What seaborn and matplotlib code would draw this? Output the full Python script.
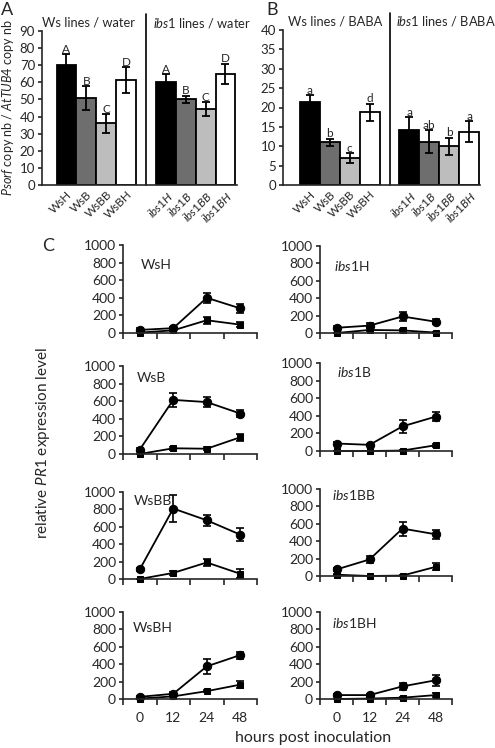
import numpy as np
import pandas as pd
import matplotlib
matplotlib.use("Agg")
import matplotlib.pyplot as plt
import seaborn as sns

#%%% style
sns.set_style("ticks")
plt.rcParams['font.family'] = ['Lato', 'DejaVu Sans']
plt.rcParams['mathtext.fontset'] = 'custom'
plt.rcParams['mathtext.rm'] = 'Lato'
plt.rcParams['mathtext.it'] = 'Lato:italic'
plt.rcParams['mathtext.bf'] = 'Lato:bold'
plt.rcParams['axes.linewidth'] = 1.2
plt.rcParams['xtick.major.width'] = 1.2
plt.rcParams['ytick.major.width'] = 1.2

#%%% data - bar panels (A water, B BABA)
genos = ['WsH', 'WsB', 'WsBB', 'WsBH', 'ibs1H', 'ibs1B', 'ibs1BB', 'ibs1BH']
geno_labels = ['WsH', 'WsB', 'WsBB', 'WsBH',
               r'$\it{ibs1H}$', r'$\it{ibs1B}$', r'$\it{ibs1BB}$', r'$\it{ibs1BH}$']
water_mean = [70, 51, 36, 61.5, 60, 50, 44.5, 65]
water_err = [6.5, 7, 5.5, 7.5, 5, 2.3, 4, 6]
water_letters = ['A', 'B', 'C', 'D', 'A', 'B', 'C', 'D']
baba_mean = [21.5, 11, 7, 18.8, 14.3, 11.2, 10, 13.8]
baba_err = [1.7, 1, 1.2, 2.2, 3.2, 3, 2.2, 2.6]
baba_letters = ['a', 'b', 'c', 'd', 'a', 'ab', 'b', 'a']
bar_colors = ['#000000', '#6e6e6e', '#bdbdbd', '#ffffff'] * 2

#%%% data - PR1 time course (C)
hours = ['0', '12', '24', '48']
# circles
wsh_circ = [35, 55, 400, 280]
wsb_circ = [50, 615, 590, 460]
wsbb_circ = [110, 810, 675, 510]
wsbh_circ = [25, 60, 375, 505]
ibs1h_circ = [60, 85, 190, 130]
ibs1b_circ = [85, 70, 280, 390]
ibs1bb_circ = [75, 190, 545, 480]
ibs1bh_circ = [45, 45, 145, 215]
wsh_circ_err = [20, 15, 60, 55]
wsb_circ_err = [15, 80, 60, 40]
wsbb_circ_err = [20, 150, 65, 75]
wsbh_circ_err = [10, 15, 90, 40]
ibs1h_circ_err = [15, 25, 50, 30]
ibs1b_circ_err = [15, 15, 70, 50]
ibs1bb_circ_err = [15, 35, 80, 50]
ibs1bh_circ_err = [10, 10, 40, 60]
# squares
wsh_sq = [5, 30, 145, 95]
wsb_sq = [0, 65, 60, 190]
wsbb_sq = [0, 70, 190, 60]
wsbh_sq = [5, 30, 90, 165]
ibs1h_sq = [0, 35, 30, 5]
ibs1b_sq = [0, 0, 5, 65]
ibs1bb_sq = [15, 0, 5, 105]
ibs1bh_sq = [0, 5, 15, 45]
wsh_sq_err = [5, 10, 40, 25]
wsb_sq_err = [5, 15, 20, 40]
wsbb_sq_err = [5, 20, 40, 50]
wsbh_sq_err = [5, 10, 15, 40]
ibs1h_sq_err = [5, 10, 15, 5]
ibs1b_sq_err = [5, 5, 5, 20]
ibs1bb_sq_err = [5, 5, 10, 40]
ibs1bh_sq_err = [5, 5, 10, 20]

#%%% figure
W, H = 495, 748
fig = plt.figure(figsize=(W / 100, H / 100), dpi=100)

def fax(left, top, right, bottom):
    # pixel box -> figure axes
    return fig.add_axes([left / W, 1 - bottom / H, (right - left) / W, (bottom - top) / H])

order = genos[:4] + [' '] + genos[4:]
pos = [0, 1, 2, 3, 5, 6, 7, 8]

def bar_panel(ax, means, errs, letters, ymax, step, xlim, titles, tpos):
    df = pd.DataFrame({'geno': genos, 'val': means})
    sns.barplot(data=df, x='geno', y='val', order=order, hue='geno',
                palette=dict(zip(genos, bar_colors)), legend=False,
                width=1.0, edgecolor='black', linewidth=1.3,
                errorbar=None, ax=ax, saturation=1)
    ax.errorbar(pos, means, yerr=errs, fmt='none', ecolor='black',
                elinewidth=1.3, capsize=3, capthick=1.3, zorder=5)
    for p, m, e, l in zip(pos, means, errs, letters):
        ax.text(p, m + e - ymax * 0.005, l, ha='center', va='bottom', fontsize=8.5)
    ax.set_ylim(0, ymax)
    ax.set_xlim(*xlim)
    ax.set_yticks(np.arange(0, ymax + 1, step))
    ax.set_xticks(pos)
    ax.set_xticklabels(geno_labels, rotation=45, ha='right', rotation_mode='anchor')
    ax.tick_params(axis='x', length=0, pad=3, labelsize=8.5)
    ax.tick_params(axis='y', length=3, pad=2, labelsize=9.5)
    ax.set_xlabel('')
    ax.set_ylabel('')
    ax.plot([4, 4], [0, 1.11], color='black', lw=1.2,
            transform=ax.get_xaxis_transform(), clip_on=False)
    # Ws title centred, ibs1 title starts just right of the divider
    ax.text(tpos[0], 1.055, titles[0], ha='center', va='center', fontsize=9.3,
            transform=ax.get_xaxis_transform())
    ax.text(tpos[1], 1.055, titles[1], ha='left', va='center', fontsize=9.3,
            transform=ax.get_xaxis_transform())
    sns.despine(ax=ax)

axA = fax(42, 31, 237, 185)
bar_panel(axA, water_mean, water_err, water_letters, 90, 10, (-1.23, 8.58),
          ['Ws lines / water', r'$\it{ibs1}$ lines / water'], [1.1, 4.35])
axB = fax(283, 30, 480, 185)
bar_panel(axB, baba_mean, baba_err, baba_letters, 40, 5, (-1.36, 8.55),
          ['Ws lines / BABA', r'$\it{ibs1}$ lines / BABA'], [1.26, 4.3])

fig.text(8 / W, 1 - 108 / H, r'$\it{Psorf}$ copy nb / $\it{AtTUB4}$ copy nb',
         rotation=90, ha='center', va='center', fontsize=9)

#%%% time course panels
left_col = (123, 257)
right_col = (320, 452)
rows_left = [(245, 333), (366, 454), (492, 579), (612, 699)]
rows_right = [(246, 333), (363, 451), (489, 576), (612, 699)]

panels = [
    ('WsH', wsh_circ, wsh_circ_err, wsh_sq, wsh_sq_err, left_col, rows_left[0], (0.13, 0.77)),
    ('WsB', wsb_circ, wsb_circ_err, wsb_sq, wsb_sq_err, left_col, rows_left[1], (0.10, 0.86)),
    ('WsBB', wsbb_circ, wsbb_circ_err, wsbb_sq, wsbb_sq_err, left_col, rows_left[2], (0.08, 0.90)),
    ('WsBH', wsbh_circ, wsbh_circ_err, wsbh_sq, wsbh_sq_err, left_col, rows_left[3], (0.07, 0.82)),
    (r'$\it{ibs1}$H', ibs1h_circ, ibs1h_circ_err, ibs1h_sq, ibs1h_sq_err, right_col, rows_right[0], (0.106, 0.77)),
    (r'$\it{ibs1}$B', ibs1b_circ, ibs1b_circ_err, ibs1b_sq, ibs1b_sq_err, right_col, rows_right[1], (0.13, 0.90)),
    (r'$\it{ibs1}$BB', ibs1bb_circ, ibs1bb_circ_err, ibs1bb_sq, ibs1bb_sq_err, right_col, rows_right[2], (0.09, 0.93)),
    (r'$\it{ibs1}$BH', ibs1bh_circ, ibs1bh_circ_err, ibs1bh_sq, ibs1bh_sq_err, right_col, rows_right[3], (0.09, 0.87)),
]

xpos = np.arange(len(hours))
for i, (name, circ, circ_e, sq, sq_e, col, row, tp) in enumerate(panels):
    ax = fax(col[0], row[0], col[1], row[1])
    sns.lineplot(x=xpos, y=sq, marker='s', markersize=5, color='black',
                 linewidth=1.3, markeredgecolor='black', ax=ax, clip_on=False)
    sns.lineplot(x=xpos, y=circ, marker='o', markersize=6, color='black',
                 linewidth=1.3, markeredgecolor='black', ax=ax, clip_on=False)
    ax.errorbar(xpos, sq, yerr=sq_e, fmt='none', ecolor='black', elinewidth=1.2,
                capsize=3, capthick=1.2, clip_on=False)
    ax.errorbar(xpos, circ, yerr=circ_e, fmt='none', ecolor='black', elinewidth=1.2,
                capsize=3, capthick=1.2, clip_on=False)
    ax.set_ylim(0, 1000)
    ax.set_xlim(-0.5, 3.5)
    ax.set_yticks(np.arange(0, 1001, 200))
    ax.set_xticks(np.arange(-0.5, 3.6, 1))
    ax.set_xticklabels([])
    ax.set_xticks(xpos, minor=True)
    if i % 4 == 3:
        ax.set_xticklabels(hours, minor=True)
    ax.tick_params(axis='x', which='major', length=4, direction='out')
    ax.tick_params(axis='x', which='minor', length=0, pad=9, labelsize=10)
    ax.tick_params(axis='y', length=3, pad=2, labelsize=10)
    ax.text(tp[0], tp[1], name, transform=ax.transAxes, ha='left', va='center', fontsize=10)
    sns.despine(ax=ax)

fig.text(43 / W, 1 - 443 / H, r'relative $\it{PR1}$ expression level',
         rotation=90, ha='center', va='center', fontsize=11)
fig.text(313 / W, 1 - 738 / H, 'hours post inoculation', ha='center', va='center', fontsize=11.5)

# panel letters
fig.text(1 / W, 1 - 2 / H, 'A', ha='left', va='top', fontsize=13)
fig.text(266 / W, 1 - 2 / H, 'B', ha='left', va='top', fontsize=13)
fig.text(42 / W, 1 - 238 / H, 'C', ha='left', va='top', fontsize=13)

fig.savefig('out.png', dpi=100)
